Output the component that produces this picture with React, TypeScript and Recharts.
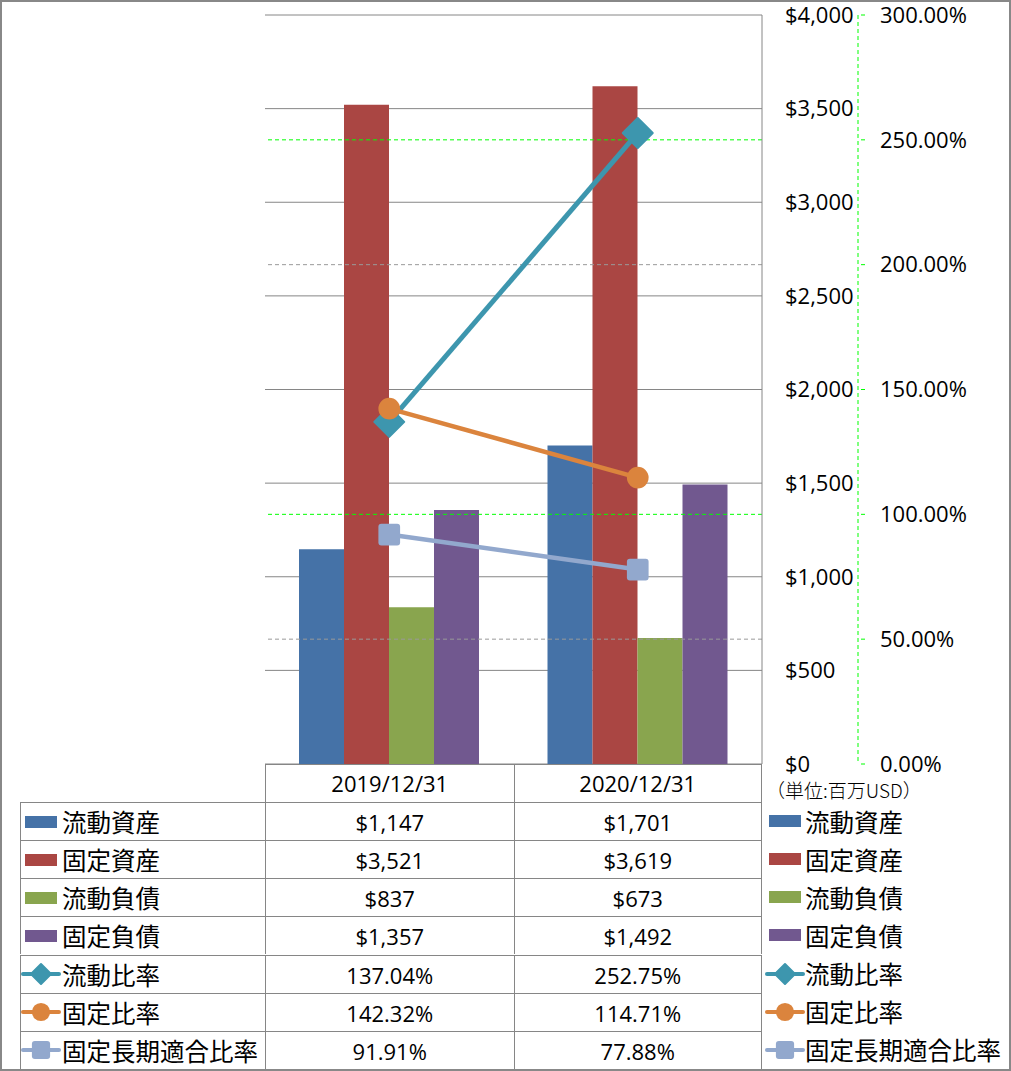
import React from "react";
import {
  ComposedChart,
  Bar,
  Line,
  XAxis,
  YAxis,
  CartesianGrid,
  ReferenceLine,
} from "recharts";

const categories = ["2019/12/31", "2020/12/31"];
const currentAssets = [1147, 1701];
const fixedAssets = [3521, 3619];
const currentLiabilities = [837, 673];
const fixedLiabilities = [1357, 1492];
const currentRatio = [137.04, 252.75];
const fixedRatio = [142.32, 114.71];
const longTermFitRatio = [91.91, 77.88];

const amountTicks = [0, 500, 1000, 1500, 2000, 2500, 3000, 3500, 4000];
const pctTicks = [0, 50, 100, 150, 200, 250, 300];

const FONT = "'Open Sans', 'Noto Sans CJK JP', sans-serif";
const GRID = "#868686";
const GREEN = "#00FF00";

type Kind = "bar" | "diamond" | "circle" | "square";

const series: { key: string; name: string; color: string; kind: Kind; values: number[] }[] = [
  { key: "ca", name: "流動資産", color: "#4572A7", kind: "bar", values: currentAssets },
  { key: "fa", name: "固定資産", color: "#AA4643", kind: "bar", values: fixedAssets },
  { key: "cl", name: "流動負債", color: "#89A54E", kind: "bar", values: currentLiabilities },
  { key: "fl", name: "固定負債", color: "#71588F", kind: "bar", values: fixedLiabilities },
  { key: "cr", name: "流動比率", color: "#3D96AE", kind: "diamond", values: currentRatio },
  { key: "fr", name: "固定比率", color: "#DB843D", kind: "circle", values: fixedRatio },
  { key: "lr", name: "固定長期適合比率", color: "#92A8CD", kind: "square", values: longTermFitRatio },
];

const data = categories.map((date, i) => {
  const row: Record<string, string | number> = { date };
  series.forEach((s) => (row[s.key] = s.values[i]));
  return row;
});

const money = (v: number) => "$" + v.toLocaleString("en-US");
const pct = (v: number) => v.toFixed(2) + "%";

function Marker({ kind, cx, cy, color, size }: { kind: Kind; cx: number; cy: number; color: string; size: number }) {
  if (kind === "diamond") {
    const h = size;
    return (
      <path
        d={`M${cx},${cy - h} L${cx + h},${cy} L${cx},${cy + h} L${cx - h},${cy} Z`}
        fill={color}
        stroke={color}
        strokeWidth={2}
        strokeLinejoin="round"
      />
    );
  }
  if (kind === "circle") return <circle cx={cx} cy={cy} r={size * 0.7} fill={color} />;
  const s = size * 0.7;
  return <rect x={cx - s} y={cy - s} width={s * 2} height={s * 2} rx={3} fill={color} />;
}

function LegendKey({ kind, color }: { kind: Kind; color: string }) {
  if (kind === "bar") {
    return (
      <svg width={40} height={20} style={{ display: "block" }}>
        <rect x={4} y={4} width={32} height={12} fill={color} />
      </svg>
    );
  }
  return (
    <svg width={40} height={24} style={{ display: "block" }}>
      <line x1={2} y1={12} x2={38} y2={12} stroke={color} strokeWidth={4} strokeLinecap="round" />
      <Marker kind={kind} cx={20} cy={12} color={color} size={kind === "diamond" ? 10 : 13} />
    </svg>
  );
}

const ROW_H = 38.1;
const TABLE_TOP = 764;

export default function App() {
  const lineSeries = series.filter((s) => s.kind !== "bar");
  return (
    <div
      style={{
        position: "absolute",
        left: 0,
        top: 0,
        width: 1011,
        height: 1071,
        boxSizing: "border-box",
        border: "2px solid #888888",
        background: "#fff",
        fontFamily: FONT,
        overflow: "hidden",
      }}
    >
      <div style={{ position: "absolute", left: -2, top: -2 }}>
        <ComposedChart
          width={1011}
          height={1071}
          data={data}
          margin={{ top: 15, left: 265, right: 53, bottom: 307 }}
          barGap={0}
          barSize={45}
        >
          <CartesianGrid yAxisId="amt" vertical={false} stroke={GRID} strokeWidth={1} />
          <XAxis dataKey="date" hide />
          <YAxis
            yAxisId="amt"
            orientation="right"
            domain={[0, 4000]}
            ticks={amountTicks}
            width={96}
            axisLine={{ stroke: GRID }}
            tickLine={false}
            tickMargin={17}
            tickFormatter={money}
            tick={{ fill: "#000", fontSize: 22, fontFamily: FONT }}
          />
          <YAxis
            yAxisId="pct"
            orientation="right"
            domain={[0, 300]}
            ticks={pctTicks}
            width={100}
            axisLine={{ stroke: GREEN, strokeDasharray: "4 3" }}
            tickLine={{ stroke: GREEN, strokeDasharray: "4 3" }}
            tickSize={7}
            tickMargin={15}
            tickFormatter={pct}
            tick={{ fill: "#000", fontSize: 22, fontFamily: FONT }}
          />
          <ReferenceLine yAxisId="pct" y={50} stroke="#999" strokeDasharray="4 3" />
          <ReferenceLine yAxisId="pct" y={200} stroke="#999" strokeDasharray="4 3" />
          <ReferenceLine yAxisId="pct" y={100} stroke={GREEN} strokeDasharray="4 3" />
          <ReferenceLine yAxisId="pct" y={250} stroke={GREEN} strokeDasharray="4 3" />
          {series
            .filter((s) => s.kind === "bar")
            .map((s) => (
              <Bar key={s.key} yAxisId="amt" dataKey={s.key} name={s.name} fill={s.color} isAnimationActive={false} />
            ))}
          {lineSeries.map((s) => (
            <Line
              key={s.key}
              yAxisId="pct"
              dataKey={s.key}
              name={s.name}
              stroke={s.color}
              strokeWidth={s.kind === "diamond" ? 5 : 4.5}
              isAnimationActive={false}
              activeDot={false}
              dot={(p: any) => (
                <Marker
                  key={`${s.key}-${p.index}`}
                  kind={s.kind}
                  cx={p.cx}
                  cy={p.cy}
                  color={s.color}
                  size={s.kind === "diamond" ? 15 : 15.5}
                />
              )}
            />
          ))}
        </ComposedChart>

        {/* data table */}
        <div style={{ position: "absolute", left: 0, top: 0, width: 1011, height: 1071, pointerEvents: "none" }}>
          {categories.map((c, i) => (
            <div
              key={c}
              style={{
                position: "absolute",
                left: 265 + i * 248.5,
                top: TABLE_TOP,
                width: 248.5,
                height: ROW_H,
                lineHeight: ROW_H + "px",
                textAlign: "center",
                fontSize: 22,
                borderLeft: `1px solid ${GRID}`,
                borderRight: i === 1 ? `1px solid ${GRID}` : undefined,
                boxSizing: "border-box",
              }}
            >
              {c}
            </div>
          ))}
          <div
            style={{
              position: "absolute",
              left: 265,
              top: TABLE_TOP,
              width: 497,
              borderTop: `1px solid ${GRID}`,
            }}
          />
          <div
            style={{
              position: "absolute",
              left: 766,
              top: 776,
              fontSize: 19,
              fontFamily: "'Noto Sans CJK JP', sans-serif",
              fontWeight: 300,
              color: "#000",
              whiteSpace: "nowrap",
            }}
          >
            （単位:百万USD）
          </div>
          {series.map((s, r) => {
            const top = TABLE_TOP + ROW_H * (r + 1);
            const fmt = s.kind === "bar" ? money : pct;
            return (
              <React.Fragment key={s.key}>
                <div
                  style={{
                    position: "absolute",
                    left: 20,
                    top,
                    width: 245,
                    height: ROW_H,
                    borderTop: `1px solid ${GRID}`,
                    borderLeft: `1px solid ${GRID}`,
                    boxSizing: "border-box",
                    display: "flex",
                    alignItems: "center",
                    fontSize: 24.5,
                  }}
                >
                  <LegendKey kind={s.kind} color={s.color} />
                  <span style={{ marginLeft: 1, whiteSpace: "nowrap" }}>{s.name}</span>
                </div>
                {s.values.map((v, i) => (
                  <div
                    key={i}
                    style={{
                      position: "absolute",
                      left: 265 + i * 248.5,
                      top,
                      width: 248.5,
                      height: ROW_H,
                      lineHeight: ROW_H + "px",
                      textAlign: "center",
                      fontSize: 22,
                      borderTop: `1px solid ${GRID}`,
                      borderLeft: `1px solid ${GRID}`,
                      borderRight: i === 1 ? `1px solid ${GRID}` : undefined,
                      boxSizing: "border-box",
                    }}
                  >
                    {fmt(v)}
                  </div>
                ))}
                <div
                  style={{
                    position: "absolute",
                    left: 765,
                    top,
                    height: ROW_H,
                    display: "flex",
                    alignItems: "center",
                    fontSize: 24.5,
                  }}
                >
                  <LegendKey kind={s.kind} color={s.color} />
                  <span style={{ marginLeft: 0, whiteSpace: "nowrap" }}>{s.name}</span>
                </div>
              </React.Fragment>
            );
          })}
        </div>
      </div>
    </div>
  );
}
